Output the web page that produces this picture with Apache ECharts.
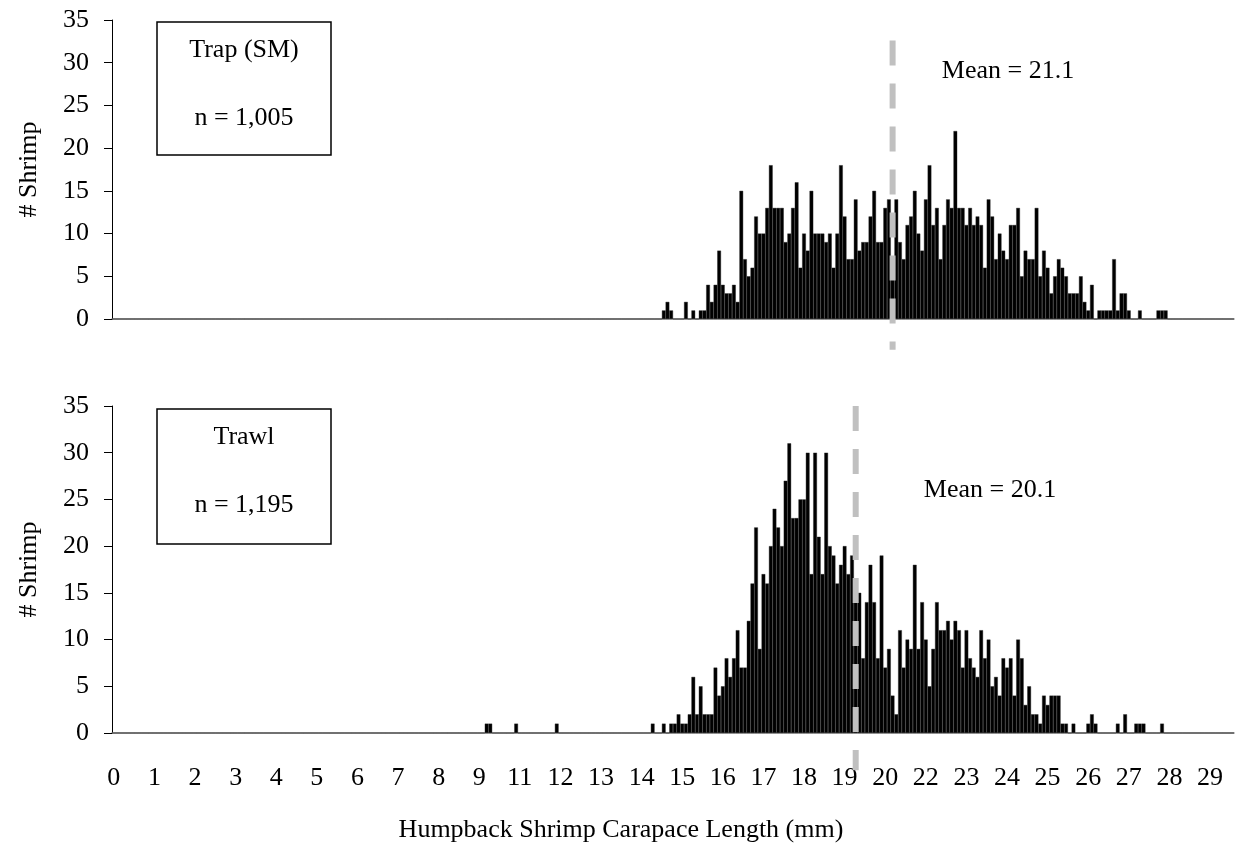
<!DOCTYPE html>
<html>
<head>
<meta charset="utf-8">
<script src="https://cdn.jsdelivr.net/npm/echarts@6/dist/echarts.min.js"></script>
<style>
  html, body { margin: 0; padding: 0; background: #fff; }
  #chart { width: 1243px; height: 852px; }
</style>
</head>
<body>
<div id="chart"></div>
<script>
// bins are 0.1 mm wide, from 0.0 to 30.3 mm
var binCount = 304;

// tick labels shown every 11th bin (as in the original sheet)
var xTickLabels = ['0', '1', '2', '3', '4', '5', '6', '7', '8', '9',
    '11', '12', '13', '14', '15', '16', '17', '18', '19', '20',
    '22', '23', '24', '25', '26', '27', '28', '29'];

// trap (SM): counts per bin starting at 14.9 mm
var trapFirstBin = 149;
var trapCounts = [1, 2, 1, 0, 0, 0, 2, 0, 1, 0, 1, 1, 4, 2, 4, 8, 4, 3, 3, 4, 2,
    15, 7, 5, 6, 12, 10, 10, 13, 18, 13, 13, 13, 9, 10, 13, 16, 6, 10, 8, 15,
    10, 10, 10, 9, 10, 6, 10, 18, 12, 7, 7, 14, 8, 9, 9, 12, 15, 9, 9, 13,
    14, 7, 14, 9, 7, 11, 12, 15, 10, 8, 14, 18, 11, 13, 7, 11, 14, 13, 22, 13,
    13, 11, 13, 11, 12, 11, 6, 14, 12, 7, 10, 8, 7, 11, 11, 13, 5, 8, 7, 7,
    13, 5, 8, 6, 3, 5, 7, 6, 5, 3, 3, 3, 5, 2, 1, 4, 0, 1, 1, 1,
    1, 7, 1, 3, 3, 1, 0, 0, 1, 0, 0, 0, 0, 1, 1, 1];

// trawl: counts per bin starting at 10.1 mm
var trawlFirstBin = 101;
var trawlCounts = [1, 1, 0, 0, 0, 0, 0, 0, 1, 0, 0, 0, 0, 0, 0, 0, 0, 0, 0, 1,
    0, 0, 0, 0, 0, 0, 0, 0, 0, 0, 0, 0, 0, 0, 0, 0, 0, 0, 0, 0,
    0, 0, 0, 0, 0, 1, 0, 0, 1, 0, 1, 1, 2, 1, 1, 2, 6, 2, 5, 2,
    2, 2, 7, 4, 5, 8, 6, 8, 11, 7, 7, 12, 16, 22, 9, 17, 16, 20, 24, 22,
    20, 27, 31, 23, 23, 25, 25, 30, 17, 30, 21, 17, 30, 20, 19, 16, 18, 20, 17, 19,
    15, 15, 8, 14, 18, 14, 8, 19, 7, 9, 4, 2, 11, 7, 10, 9, 18, 9, 14, 10,
    5, 9, 14, 11, 11, 12, 10, 12, 11, 7, 11, 8, 7, 6, 11, 8, 10, 5, 6, 4,
    8, 7, 8, 4, 10, 8, 3, 5, 2, 2, 1, 4, 3, 4, 4, 4, 1, 1, 0, 1,
    0, 0, 0, 1, 2, 1, 0, 0, 0, 0, 0, 1, 0, 2, 0, 0, 1, 1, 1, 0,
    0, 0, 0, 1];

var trapMean = 21.1;
var trawlMean = 20.1;
var trapN = '1,005';
var trawlN = '1,195';

var bins = [];
for (var i = 0; i < binCount; i++) {
    bins.push((i / 10).toFixed(1));
}

function fillBins(first, counts) {
    var out = [];
    for (var i = 0; i < binCount; i++) {
        var k = i - first;
        out.push(k >= 0 && k < counts.length ? counts[k] : 0);
    }
    return out;
}

var serif = 'Liberation Serif';

function xAxisFor(gridIndex, showLabels) {
    return {
        type: 'category',
        gridIndex: gridIndex,
        data: bins,
        axisLine: { lineStyle: { color: '#808080', width: 1.5 } },
        axisTick: { show: false },
        axisLabel: {
            show: showLabels,
            interval: 10,
            margin: 32,
            color: '#000',
            fontFamily: serif,
            fontSize: 26,
            formatter: function (v, idx) { return xTickLabels[idx / 11]; }
        }
    };
}

function yAxisFor(gridIndex) {
    return {
        type: 'value',
        gridIndex: gridIndex,
        min: 0,
        max: 35,
        interval: 5,
        name: '# Shrimp',
        nameLocation: 'middle',
        nameRotate: 90,
        nameGap: 70,
        nameTextStyle: { color: '#000', fontFamily: serif, fontSize: 26 },
        axisLine: { show: true, lineStyle: { color: '#000', width: 1 } },
        axisTick: { show: true, length: 8, lineStyle: { color: '#000' } },
        splitLine: { show: false },
        axisLabel: { color: '#000', fontFamily: serif, fontSize: 26, margin: 23 }
    };
}

// dashed grey line at the mean, running a bit past the axis
function meanSeries(axisIndex, mean, yTop, yBottom) {
    var idx = Math.round(mean * 10);
    return {
        type: 'line',
        xAxisIndex: axisIndex,
        yAxisIndex: axisIndex,
        data: [[idx, yTop], [idx, yBottom]],
        symbol: 'none',
        clip: false,
        silent: true,
        z: 5,
        lineStyle: { color: '#c0c0c0', width: 6, type: [25, 18] }
    };
}

function textItem(txt, x, y) {
    return {
        type: 'text',
        x: x,
        y: y,
        style: {
            text: txt,
            font: '26px "Liberation Serif"',
            fill: '#000',
            align: 'center',
            verticalAlign: 'middle'
        }
    };
}

var chartDom = document.getElementById('chart');
var myChart = echarts.init(chartDom);

var option = {
    animation: false,
    backgroundColor: '#fff',
    grid: [
        { left: 112, top: 20, width: 1122, height: 299 },
        { left: 112, top: 406, width: 1122, height: 327 }
    ],
    xAxis: [xAxisFor(0, false), xAxisFor(1, true)],
    yAxis: [yAxisFor(0), yAxisFor(1)],
    series: [
        {
            type: 'bar',
            xAxisIndex: 0,
            yAxisIndex: 0,
            data: fillBins(trapFirstBin, trapCounts),
            barWidth: '100%',
            itemStyle: { color: '#000', borderColor: '#222', borderWidth: 0.4 }
        },
        {
            type: 'bar',
            xAxisIndex: 1,
            yAxisIndex: 1,
            data: fillBins(trawlFirstBin, trawlCounts),
            barWidth: '100%',
            itemStyle: { color: '#000', borderColor: '#222', borderWidth: 0.4 }
        },
        meanSeries(0, trapMean, 32.6, -3.6),
        meanSeries(1, trawlMean, 35, -4.0)
    ],
    graphic: [
        { type: 'rect', shape: { x: 157, y: 22, width: 174, height: 133 },
          style: { fill: '#fff', stroke: '#000', lineWidth: 1.5 } },
        textItem('Trap (SM)', 244, 50),
        textItem('n = ' + trapN, 244, 118),
        { type: 'rect', shape: { x: 157, y: 409, width: 174, height: 135 },
          style: { fill: '#fff', stroke: '#000', lineWidth: 1.5 } },
        textItem('Trawl', 244, 437),
        textItem('n = ' + trawlN, 244, 505),
        textItem('Mean = ' + trapMean, 1008, 71),
        textItem('Mean = ' + trawlMean, 990, 490),
        textItem('Humpback Shrimp Carapace Length (mm)', 621, 830)
    ]
};

option && myChart.setOption(option);
</script>
</body>
</html>
